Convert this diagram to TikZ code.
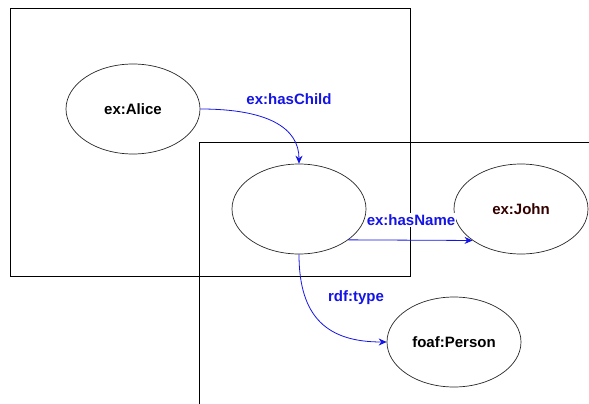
\documentclass[tikz,border=0pt]{standalone}
\usepackage{fontspec}
\setmainfont{Liberation Sans}
\usetikzlibrary{shapes.geometric,arrows.meta}
\definecolor{edgeblue}{RGB}{20,20,230}
\definecolor{johncol}{RGB}{51,0,0}
\tikzset{
  res/.style={ellipse,draw=black!85,line width=0.7pt,fill=white,minimum width=134pt,minimum height=90pt,inner sep=0pt,font=\bfseries\fontsize{15}{18}\selectfont},
  graphbox/.style={draw=black,line width=0.8pt},
  rel/.style={draw=edgeblue,line width=0.8pt,-{Stealth[length=8pt,width=7pt]}},
  rellabel/.style={text=edgeblue,fill=white,inner sep=1pt,font=\bfseries\fontsize{15}{18}\selectfont}
}
\begin{document}
\begin{tikzpicture}[x=1pt,y=-1pt]
\useasboundingbox (0,0) rectangle (589,404);
% graph boxes
\draw[graphbox] (10,8) rectangle (410,276);
\draw[graphbox] (589,142) -- (199,142) -- (199,404);
% resources
\node[res] (alice) at (133,109) {ex:Alice};
\node[res] (bn) at (299,209) {};
\node[res,text=johncol] (john) at (521,209) {ex:John};
\node[res] (person) at (454,342) {foaf:Person};
% relations
\draw[rel] (alice.east) .. controls (268,109) and (299,128) .. (bn.north);
\node[rellabel] (lchild) at (289,99) {ex:hasChild};
\draw[rel] (bn.-32.5) -- (john.-147.5);
\node[rellabel] (lname) at (411,220) {ex:hasName};
\draw[rel] (bn.south) .. controls (299,318) and (328,342) .. (person.west);
\node[rellabel] (ltype) at (356,298) {rdf:type};
\end{tikzpicture}
\end{document}
